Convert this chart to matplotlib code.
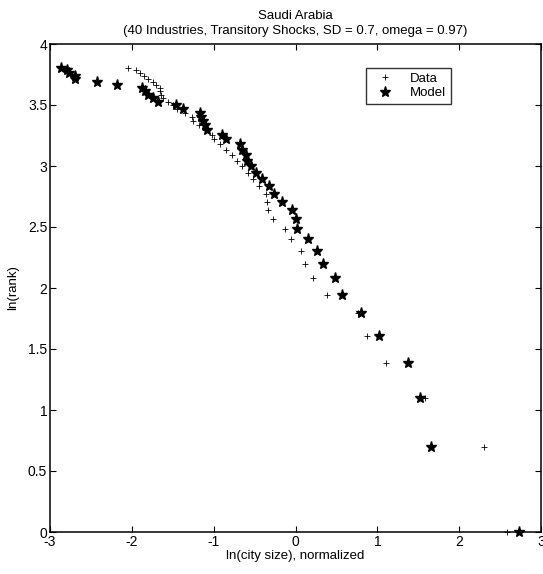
import matplotlib
matplotlib.use("Agg")
import matplotlib.pyplot as plt

plt.rcParams["font.family"] = ["Liberation Sans", "DejaVu Sans"]
plt.rcParams["axes.unicode_minus"] = False

# ln(rank) for ranks 1..45
ln_rank = [0.000, 0.693, 1.099, 1.386, 1.609, 1.792, 1.946, 2.079, 2.197, 2.303,
           2.398, 2.485, 2.565, 2.639, 2.708, 2.773, 2.833, 2.890, 2.944, 2.996,
           3.045, 3.091, 3.135, 3.178, 3.219, 3.258, 3.296, 3.332, 3.367, 3.401,
           3.434, 3.466, 3.497, 3.526, 3.555, 3.584, 3.611, 3.638, 3.664, 3.689,
           3.714, 3.738, 3.761, 3.784, 3.807]

# ln(city size), normalized -- observed
data_x = [2.59, 2.30, 1.58, 1.11, 0.87, 0.76, 0.38, 0.21, 0.11, 0.07,
          -0.05, -0.13, -0.28, -0.34, -0.35, -0.36, -0.45, -0.52, -0.58, -0.65,
          -0.71, -0.78, -0.85, -0.92, -0.99, -1.02, -1.10, -1.18, -1.25, -1.27,
          -1.35, -1.45, -1.50, -1.56, -1.62, -1.64, -1.65, -1.66, -1.70, -1.74,
          -1.80, -1.85, -1.90, -1.95, -2.05]

# model simulation
model_x = [2.73, 1.66, 1.52, 1.37, 1.02, 0.80, 0.57, 0.48, 0.33, 0.26,
           0.15, 0.02, 0.01, -0.04, -0.16, -0.26, -0.32, -0.41, -0.48, -0.54,
           -0.59, -0.61, -0.65, -0.68, -0.85, -0.90, -1.08, -1.11, -1.13, -1.15,
           -1.17, -1.38, -1.46, -1.68, -1.74, -1.80, -1.84, -1.88, -2.18, -2.43,
           -2.69, -2.70, -2.77, -2.79, -2.87]

fig = plt.figure(figsize=(5.43, 5.74), dpi=100)
ax = fig.add_axes([50 / 543, 42 / 574, 491 / 543, 488 / 574])

ax.plot(data_x, ln_rank, ls="none", marker="+", ms=4, mew=0.6,
        color="black", label="Data", clip_on=False)
ax.plot(model_x, ln_rank, ls="none", marker="*", ms=8, mew=1.0,
        color="black", label="Model", clip_on=False)

ax.set_xlim(-3, 3)
ax.set_ylim(0, 4)
ax.set_xticks([-3, -2, -1, 0, 1, 2, 3])
ax.set_yticks([0, 0.5, 1, 1.5, 2, 2.5, 3, 3.5, 4])
ax.set_yticklabels(["0", "0.5", "1", "1.5", "2", "2.5", "3", "3.5", "4"])
ax.tick_params(direction="in", length=4, top=True, right=True,
               labelsize=10, pad=2)
for s in ax.spines.values():
    s.set_linewidth(1.1)

ax.set_xlabel("ln(city size), normalized", fontsize=9.5, labelpad=1)
ax.set_ylabel("ln(rank)", fontsize=9.5, labelpad=6)
ax.set_title("Saudi Arabia\n(40 Industries, Transitory Shocks, SD = 0.7, omega = 0.97)",
             fontsize=9.5, pad=7, linespacing=1.35)

leg = ax.legend(loc="upper left", bbox_to_anchor=(0.63, 0.965), fontsize=9.5,
                frameon=True, fancybox=False, edgecolor="black",
                handlelength=2.2, borderpad=0.35, labelspacing=0.2)
leg.get_frame().set_linewidth(1.0)

fig.savefig("out.png", dpi=100)
